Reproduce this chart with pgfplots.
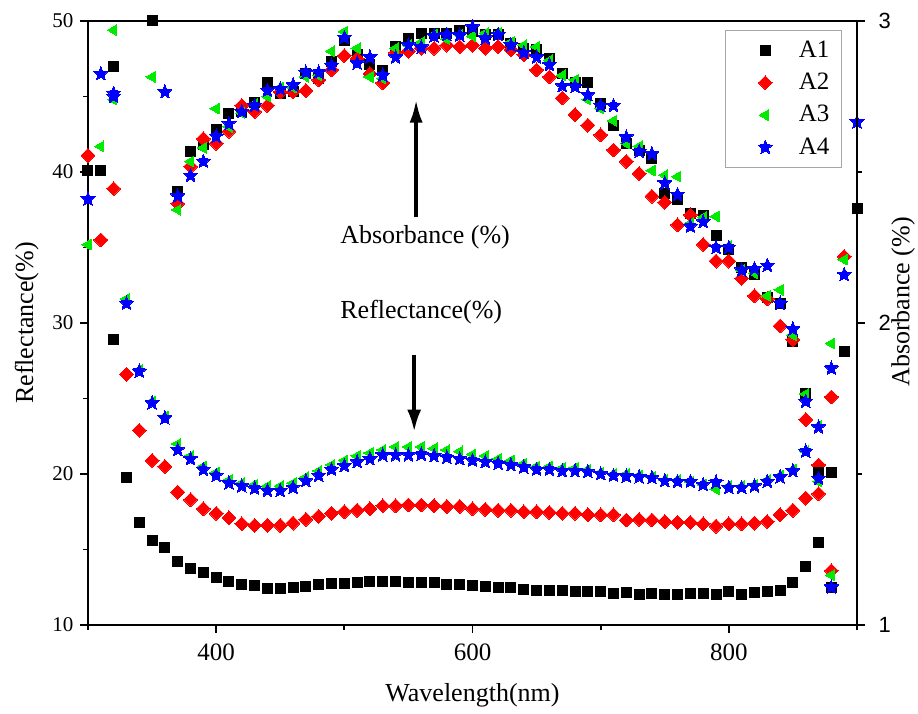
\documentclass[border=0pt]{standalone}
\usepackage{fontspec}
\setmainfont{Liberation Serif}
\newfontfamily\sansnum{Liberation Sans}
\usepackage{pgfplots}
\pgfplotsset{compat=1.18}
\usepackage{pgfplotstable}
\usetikzlibrary{arrows.meta}

\definecolor{cA1}{RGB}{0,0,0}
\definecolor{cA2}{RGB}{255,0,0}
\definecolor{cA3}{RGB}{0,235,0}
\definecolor{cA4}{RGB}{0,0,255}

% filled five-pointed star
\pgfdeclareplotmark{fstar}{%
  \pgfpathmoveto{\pgfpointpolar{90}{\pgfplotmarksize}}%
  \pgfpathlineto{\pgfpointpolar{126}{0.45\pgfplotmarksize}}%
  \pgfpathlineto{\pgfpointpolar{162}{\pgfplotmarksize}}%
  \pgfpathlineto{\pgfpointpolar{198}{0.45\pgfplotmarksize}}%
  \pgfpathlineto{\pgfpointpolar{234}{\pgfplotmarksize}}%
  \pgfpathlineto{\pgfpointpolar{270}{0.45\pgfplotmarksize}}%
  \pgfpathlineto{\pgfpointpolar{306}{\pgfplotmarksize}}%
  \pgfpathlineto{\pgfpointpolar{342}{0.45\pgfplotmarksize}}%
  \pgfpathlineto{\pgfpointpolar{18}{\pgfplotmarksize}}%
  \pgfpathlineto{\pgfpointpolar{54}{0.45\pgfplotmarksize}}%
  \pgfpathclose
  \pgfusepathqfillstroke
}

% ---------- reflectance (left axis, %) ----------
\pgfplotstableread{
nm R
300 40.1
310 40.1
320 28.9
330 19.8
340 16.8
350 15.6
360 15.1
370 14.2
380 13.75
390 13.5
400 13.15
410 12.9
420 12.7
430 12.6
440 12.4
450 12.4
460 12.5
470 12.55
480 12.65
490 12.75
500 12.75
510 12.8
520 12.85
530 12.9
540 12.9
550 12.8
560 12.8
570 12.8
580 12.65
590 12.65
600 12.6
610 12.55
620 12.5
630 12.5
640 12.35
650 12.3
660 12.3
670 12.28
680 12.25
690 12.25
700 12.25
710 12.1
720 12.15
730 12.05
740 12.1
750 12.0
760 12.05
770 12.1
780 12.1
790 12.05
800 12.2
810 12.05
820 12.15
830 12.25
840 12.3
850 12.8
860 13.9
870 15.45
880 20.1
890 28.1
900 37.6
}\reflA

\pgfplotstableread{
nm R
320 38.9
330 26.6
340 22.9
350 20.9
360 20.5
370 18.8
380 18.3
390 17.7
400 17.4
410 17.1
420 16.7
430 16.6
440 16.6
450 16.6
460 16.75
470 17.0
480 17.2
490 17.4
500 17.5
510 17.6
520 17.7
530 17.9
540 17.9
550 17.95
560 17.95
570 17.9
580 17.85
590 17.85
600 17.7
610 17.65
620 17.6
630 17.6
640 17.5
650 17.5
660 17.45
670 17.4
680 17.4
690 17.3
700 17.3
710 17.3
720 16.95
730 17.0
740 16.95
750 16.85
760 16.8
770 16.8
780 16.7
790 16.55
800 16.7
810 16.7
820 16.75
830 16.85
840 17.3
850 17.6
860 18.4
870 20.6
880 25.1
890 34.4
}\reflB

\pgfplotstableread{
nm R
320 44.8
330 31.6
340 26.9
350 24.8
360 23.8
370 22.0
380 21.2
390 20.5
400 20.1
410 19.6
420 19.4
430 19.3
440 19.2
450 19.2
460 19.4
470 19.8
480 20.2
490 20.6
500 20.9
510 21.2
520 21.4
530 21.6
540 21.8
550 21.8
560 21.8
570 21.7
580 21.6
590 21.5
600 21.3
610 21.2
620 21.0
630 20.9
640 20.7
650 20.5
660 20.5
670 20.4
680 20.4
690 20.3
700 20.1
710 20.0
720 20.0
730 19.9
740 19.8
750 19.6
760 19.6
770 19.5
780 19.3
790 19.0
800 19.2
810 19.2
820 19.3
830 19.6
840 19.9
850 20.3
860 21.5
870 23.2
880 28.65
890 34.2
}\reflC

\pgfplotstableread{
nm R
320 45.2
330 31.3
340 26.8
350 24.7
360 23.7
370 21.6
380 21.0
390 20.3
400 19.9
410 19.4
420 19.2
430 19.05
440 18.9
450 18.9
460 19.1
470 19.55
480 19.9
490 20.3
500 20.55
510 20.8
520 21.0
530 21.25
540 21.25
550 21.25
560 21.3
570 21.2
580 21.1
590 21.0
600 20.9
610 20.8
620 20.7
630 20.6
640 20.45
650 20.3
660 20.3
670 20.2
680 20.2
690 20.15
700 20.0
710 19.9
720 19.85
730 19.8
740 19.75
750 19.55
760 19.5
770 19.5
780 19.3
790 19.45
800 19.1
810 19.1
820 19.2
830 19.5
840 19.8
850 20.2
860 21.5
870 23.1
880 27.0
890 33.2
900 43.3
}\reflD

% ---------- absorbance (right axis) ----------
\pgfplotstableread{
nm A
320 2.850
350 3.000
370 2.435
380 2.568
390 2.590
400 2.640
410 2.695
420 2.700
430 2.730
440 2.795
450 2.760
460 2.765
470 2.825
480 2.810
490 2.865
500 2.935
510 2.888
520 2.855
530 2.835
540 2.915
550 2.943
560 2.960
570 2.960
580 2.960
590 2.970
600 2.965
610 2.955
620 2.955
630 2.925
640 2.910
650 2.905
660 2.875
670 2.825
680 2.795
690 2.795
700 2.728
710 2.655
720 2.595
730 2.570
740 2.545
750 2.430
760 2.408
770 2.363
780 2.355
790 2.290
800 2.245
810 2.185
820 2.160
830 2.085
840 2.065
850 1.938
860 1.765
870 1.505
880 1.125
}\absA

\pgfplotstableread{
nm A
300 2.555
310 2.275
370 2.395
380 2.518
390 2.610
400 2.595
410 2.635
420 2.720
430 2.700
440 2.720
450 2.765
460 2.765
470 2.770
480 2.805
490 2.838
500 2.885
510 2.875
520 2.825
530 2.795
540 2.895
550 2.900
560 2.910
570 2.910
580 2.920
590 2.915
600 2.920
610 2.910
620 2.915
630 2.905
640 2.888
650 2.838
660 2.815
670 2.745
680 2.690
690 2.655
700 2.623
710 2.573
720 2.535
730 2.495
740 2.420
750 2.400
760 2.325
770 2.358
780 2.260
790 2.205
800 2.205
810 2.148
820 2.090
830 2.080
840 1.990
850 1.945
860 1.680
870 1.435
880 1.180
}\absB

\pgfplotstableread{
nm A
300 2.260
310 2.585
320 2.970
350 2.815
370 2.375
380 2.535
390 2.580
400 2.710
410 2.650
420 2.695
430 2.725
440 2.750
450 2.780
460 2.780
470 2.815
480 2.820
490 2.900
500 2.965
510 2.910
520 2.815
530 2.810
540 2.910
550 2.920
560 2.930
570 2.955
580 2.940
590 2.955
600 2.950
610 2.960
620 2.960
630 2.930
640 2.920
650 2.915
660 2.870
670 2.820
680 2.805
690 2.740
700 2.710
710 2.670
720 2.595
730 2.585
740 2.505
750 2.490
760 2.485
770 2.330
780 2.350
790 2.353
800 2.255
810 2.175
820 2.165
830 2.090
840 2.110
850 1.960
860 1.765
870 1.475
880 1.165
}\absC

\pgfplotstableread{
nm A
300 2.410
310 2.825
320 2.750
360 2.765
370 2.420
380 2.488
390 2.535
400 2.618
410 2.660
420 2.700
430 2.720
440 2.770
450 2.775
460 2.788
470 2.830
480 2.830
490 2.853
500 2.945
510 2.860
520 2.880
530 2.820
540 2.880
550 2.920
560 2.913
570 2.950
580 2.955
590 2.953
600 2.980
610 2.943
620 2.955
630 2.920
640 2.895
650 2.880
660 2.855
670 2.785
680 2.783
690 2.755
700 2.720
710 2.720
720 2.615
730 2.568
740 2.560
750 2.463
760 2.425
770 2.320
780 2.335
790 2.250
800 2.250
810 2.175
820 2.180
830 2.190
840 2.065
850 1.980
860 1.740
870 1.485
880 1.125
}\absD

\pgfplotsset{
  legmark/.style={legend image code/.code={%
    \path (0pt,0pt) (30pt,0pt);
    \draw[##1] plot coordinates {(15.5pt,0pt)};}},
  mkA/.style={only marks, mark=square*, mark size=2.5pt, mark options={fill=cA1, draw=cA1, line width=0pt}, legmark},
  mkB/.style={only marks, mark=square*, mark size=2.45pt, mark options={rotate=45, fill=cA2, draw=cA2, line width=0pt}, legmark},
  mkC/.style={only marks, mark=triangle*, mark size=3.1pt, mark options={rotate=90, fill=cA3, draw=cA3, line width=0pt}, legmark},
  mkD/.style={only marks, mark=fstar, mark size=3.7pt, mark options={fill=cA4, draw=cA4, line width=0pt}, legmark},
  base/.style={
    scale only axis, width=384.5pt, height=302pt,
    xmin=300, xmax=900,
    tick align=outside,
    major tick length=3.8pt, minor tick length=2.5pt,
    tick style={line width=0.9pt, black},
    axis line style={line width=1pt},
    /pgf/number format/assume math mode=true,
    label style={font=\fontsize{13}{15}\selectfont},
  },
}

\begin{document}
\begin{tikzpicture}
\begin{axis}[base, name=main,
  ymin=10, ymax=50,
  xtick={400,600,800}, minor xtick={300,500,700,900},
  ytick={10,20,30,40,50}, minor ytick={15,25,35,45},
  xtick pos=left, ytick pos=left,
  x tick label style={font=\fontsize{12.5}{14}\selectfont, yshift=-2pt},
  y tick label style={font=\fontsize{10.5}{12}\selectfont},
  xlabel={Wavelength(nm)}, ylabel={Reflectance(\%)},
  xlabel style={yshift=-4.5pt},
  legend cell align=left,
  legend style={at={(0.9805,0.985)}, anchor=north east, draw=gray!70, line width=0.6pt,
    font=\fontsize{12.5}{14}\selectfont, inner xsep=4pt, inner ysep=3pt, row sep=2.4pt},
]
\addplot[mkA] table[x=nm, y=R] {\reflA};
\addlegendentry{A1}
\addplot[mkB] table[x=nm, y=R] {\reflB};
\addlegendentry{A2}
\addplot[mkC] table[x=nm, y=R] {\reflC};
\addlegendentry{A3}
\addplot[mkD] table[x=nm, y=R] {\reflD};
\addlegendentry{A4}

% annotations
\draw[line width=1.8pt, -{Latex[length=11.5pt, width=6.5pt]}] (axis cs:556,37.0) -- (axis cs:556,44.8);
\node[font=\fontsize{13}{15}\selectfont, anchor=north] at (axis cs:563,36.9) {Absorbance (\%)};
\node[font=\fontsize{13}{15}\selectfont] at (axis cs:560,30.7) {Reflectance(\%)};
\draw[line width=1.8pt, -{Latex[length=11pt, width=7pt]}] (axis cs:554.5,27.9) -- (axis cs:554.5,22.8);
\end{axis}

\begin{axis}[base,
  ymin=1, ymax=3,
  axis x line=none, axis y line*=right,
  ytick={1,2,3}, minor ytick={1.5,2.5},
  y tick label style={font=\sansnum\fontsize{11}{12}\selectfont, xshift=3.5pt},
  ylabel={Absorbance (\%)},
  ylabel style={at={(axis description cs:1,0.535)}, anchor=north, inner sep=0pt, yshift=-17pt},
]
\addplot[mkA] table[x=nm, y=A] {\absA};
\addplot[mkB] table[x=nm, y=A] {\absB};
\addplot[mkC] table[x=nm, y=A] {\absC};
\addplot[mkD] table[x=nm, y=A] {\absD};
\end{axis}

\path (main.south west) +(-44pt,-41.5pt) (main.north east) +(30.5pt,10.5pt);
\end{tikzpicture}
\end{document}
